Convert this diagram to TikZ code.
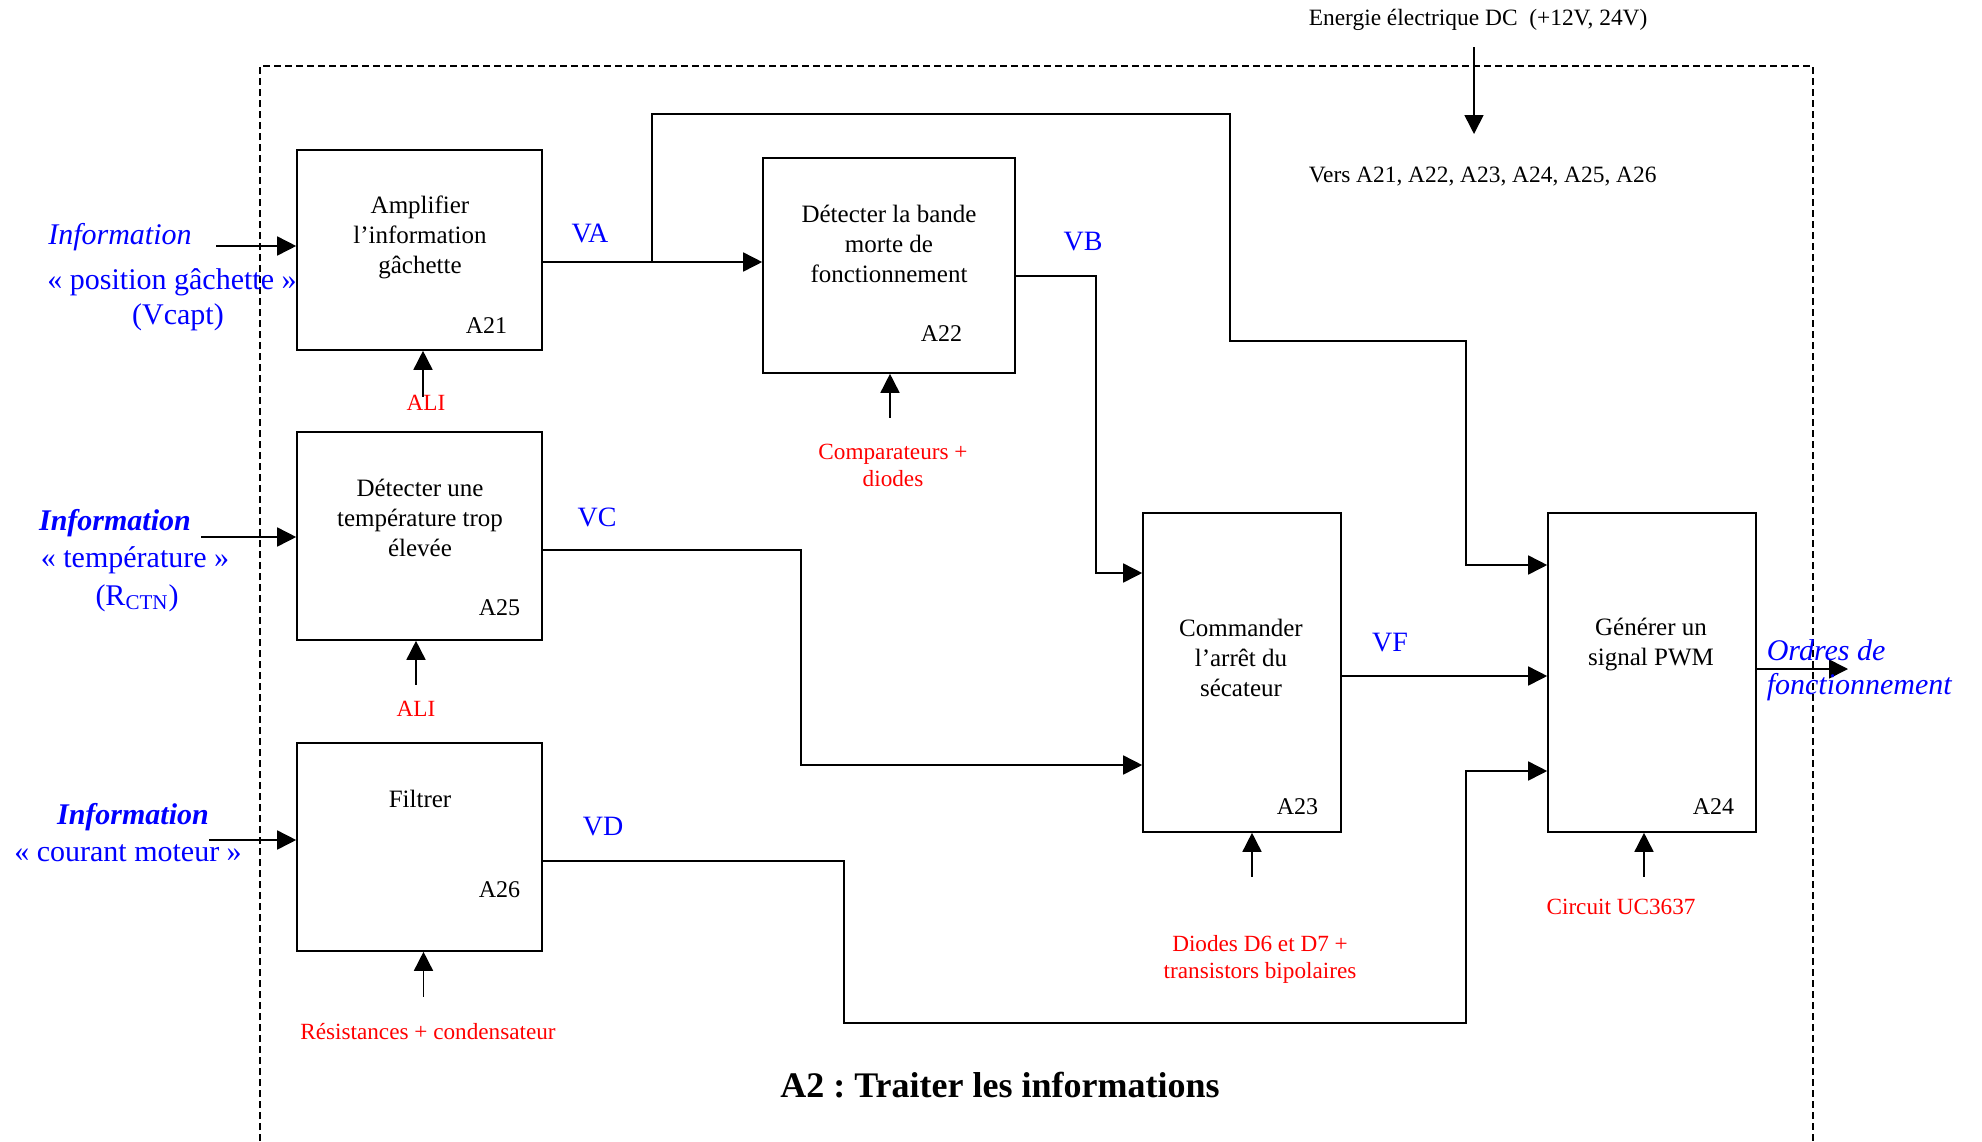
\documentclass[tikz,border=0pt]{standalone}
\usepackage{fontspec}
\setmainfont{Liberation Serif}
\frenchspacing
\usetikzlibrary{arrows.meta}
\tikzset{
  >={Triangle[length=9.5pt,width=9.5pt]},
  bloc/.style={draw, inner sep=0pt},
  txt/.style={font=\fontsize{12.5}{15}\selectfont, align=center, inner sep=0pt},
  num/.style={font=\fontsize{12}{14}\selectfont, inner sep=0pt, anchor=east},
  support/.style={red, font=\fontsize{11.6}{13.5}\selectfont, align=center, inner sep=0pt},
  signal/.style={blue, font=\fontsize{14}{16}\selectfont, inner sep=0pt},
  info/.style={blue, font=\fontsize{15}{18}\selectfont, inner sep=0pt},
  energie/.style={font=\fontsize{11.7}{14}\selectfont, inner sep=0pt, anchor=west},
}
\begin{document}
\begin{tikzpicture}[x=0.5pt,y=-0.5pt,line width=0.8pt]
    \useasboundingbox (0,0) rectangle (1982,1141);

    % cadre A2
    \draw[dash pattern=on 3.5pt off 2pt] (260,1141) -- (260,66) -- (1813,66) -- (1813,1141);

    % blocs
    \node[bloc, minimum width=122.5pt, minimum height=100pt] (a21) at (419.5,250) {};
    \node[bloc, minimum width=126pt, minimum height=107.5pt] (a22) at (889,265.5) {};
    \node[bloc, minimum width=122.5pt, minimum height=104pt] (a25) at (419.5,536) {};
    \node[bloc, minimum width=122.5pt, minimum height=104pt] (a26) at (419.5,847) {};
    \node[bloc, minimum width=99pt, minimum height=159.5pt] (a23) at (1242,672.5) {};
    \node[bloc, minimum width=104pt, minimum height=159.5pt] (a24) at (1652,672.5) {};

    \node[txt] (t21) at (420,237) {Amplifier\\l’information\\gâchette};
    \node[txt] (t22) at (889,244) {Détecter la bande\\morte de\\fonctionnement};
    \node[txt] (t25) at (420,518) {Détecter une\\température trop\\élevée};
    \node[txt] (t26) at (420,799) {Filtrer};
    \node[txt] (t23) at (1241,658) {Commander\\l’arrêt du\\sécateur};
    \node[txt] (t24) at (1651,644) {Générer un\\signal PWM};

    \node[num] (n21) at (508,326) {A21};
    \node[num] (n22) at (963,334) {A22};
    \node[num] (n25) at (521,608) {A25};
    \node[num] (n26) at (521,890) {A26};
    \node[num] (n23) at (1319,807) {A23};
    \node[num] (n24) at (1735,807) {A24};

    % entrees
    \node[info] (i1) at (120,237) {\itshape Information};
    \node[info] (i1b) at (172,282) {« position gâchette »};
    \node[info] (i1c) at (178,317) {(Vcapt)};
    \node[info] (i2) at (115,523) {\bfseries\itshape Information};
    \node[info] (i2b) at (135,560) {« température »};
    \node[info] (i2c) at (137,598) {(R\textsubscript{CTN})};
    \node[info] (i3) at (133,817) {\bfseries\itshape Information};
    \node[info] (i3b) at (128,853) {« courant moteur »};

    \coordinate (e1) at (216,246);
    \coordinate (e2) at (201,537);
    \coordinate (e3) at (209,840);
    \draw[->] (e1) -- ([yshift=2pt]a21.west);
    \draw[->] (e2) -- ([yshift=-0.5pt]a25.west);
    \draw[->] (e3) -- ([yshift=3.5pt]a26.west);

    % signaux
    \node[signal] (va) at (590,233) {VA};
    \node[signal] (vb) at (1083,242) {VB};
    \node[signal] (vc) at (597,517) {VC};
    \node[signal] (vd) at (603,827) {VD};
    \node[signal] (vf) at (1390,643) {VF};

    \coordinate (ja) at (652,262);
    \draw[->] ([yshift=-6pt]a21.east) -- ([yshift=1.75pt]a22.west);
    \draw[->] (ja) |- (1230,114) |- (1466,341) |- ([yshift=53.75pt]a24.west);
    \draw[->] ([yshift=-5.25pt]a22.east) -- (1096,276) |- ([yshift=49.75pt]a23.west);
    \draw[->] ([yshift=-7pt]a25.east) -- (801,550) |- ([yshift=-46.25pt]a23.west);
    \draw[->] ([yshift=-7pt]a26.east) -- (844,861) |- (1466,1023) |- ([yshift=-49.25pt]a24.west);
    \draw[->] ([yshift=-1.75pt]a23.east) -- ([yshift=-1.75pt]a24.west);

    % sortie
    \coordinate (s) at (1848,669);
    \draw[->] ([yshift=1.75pt]a24.east) -- (s);
    \node[info, anchor=west] (o1) at (1766,650) {\itshape Ordres de};
    \node[info, anchor=west] (o2) at (1766,687) {\itshape fonctionnement};

    % supports
    \draw[<-] ([xshift=1.75pt]a21.south) -- ++(0,-23pt);
    \draw[<-] ([xshift=-1.75pt]a25.south) -- ++(0,-22pt);
    \draw[<-] ([xshift=2pt]a26.south) -- ++(0,-22.5pt);
    \draw[<-] ([xshift=0.5pt]a22.south) -- ++(0,-22pt);
    \draw[<-] ([xshift=5pt]a23.south) -- ++(0,-22pt);
    \draw[<-] ([xshift=-4pt]a24.south) -- ++(0,-22pt);

    \node[support] (s21) at (426,403) {ALI};
    \node[support] (s25) at (416,709) {ALI};
    \node[support] (s26) at (428,1032) {Résistances + condensateur};
    \node[support] (s22) at (893,465) {Comparateurs +\\diodes};
    \node[support] (s23) at (1260,959) {Diodes D6 et D7 +\\transistors bipolaires};
    \node[support] (s24) at (1621,907) {Circuit UC3637};

    % energie
    \node[energie] (en) at (1308,20) {Energie électrique DC\ \ (+12V, 24V)};
    \node[energie] (vers) at (1308,177) {Vers A21, A22, A23, A24, A25, A26};
    \coordinate (p1) at (1474,47);
    \coordinate (p2) at (1474,134);
    \draw[->] (p1) -- (p2);

    \node[font=\fontsize{18}{20}\selectfont\bfseries] (titre) at (1000,1085) {A2 : Traiter les informations};
\end{tikzpicture}
\end{document}
